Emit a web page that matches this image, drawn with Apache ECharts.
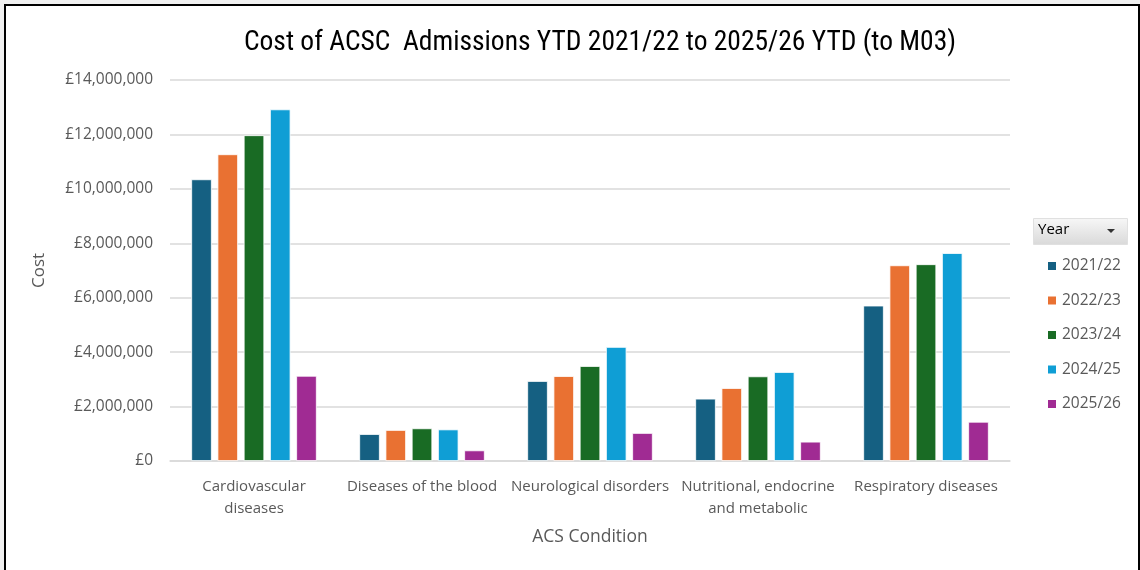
<!DOCTYPE html>
<html>
<head>
<meta charset="utf-8">
<script src="https://cdn.jsdelivr.net/npm/echarts@6/dist/echarts.min.js"></script>
<style>
  html, body { margin: 0; padding: 0; background: #f0f0f0; }
  #frame { position: absolute; left: 4px; top: 4px; width: 1132px; height: 570px; background: #fff;
           border-left: 2px solid #000; border-top: 2px solid #000; border-right: 2px solid #000; }
  #chart { position: absolute; left: -6px; top: -6px; width: 1140px; height: 570px; }
</style>
</head>
<body>
<div id="frame"><div id="chart"></div></div>
<script>
const categories = ["Cardiovascular diseases", "Diseases of the blood", "Neurological disorders", "Nutritional, endocrine and metabolic", "Respiratory diseases"];
const years = ["2021/22", "2022/23", "2023/24", "2024/25", "2025/26"];
const y2021 = [10350000, 990000, 2940000, 2290000, 5710000];
const y2022 = [11270000, 1140000, 3120000, 2680000, 7190000];
const y2023 = [11970000, 1200000, 3490000, 3110000, 7230000];
const y2024 = [12920000, 1160000, 4190000, 3270000, 7640000];
const y2025 = [3130000, 390000, 1030000, 710000, 1440000];
const seriesValues = [y2021, y2022, y2023, y2024, y2025];
const colors = ["#156082", "#E97132", "#196B24", "#0F9ED5", "#A02B93"];
const labelBreaks = {"Cardiovascular diseases": "Cardiovascular\ndiseases", "Nutritional, endocrine and metabolic": "Nutritional, endocrine\nand metabolic"};

const chart = echarts.init(document.getElementById('chart'));
const font = "'Open Sans', 'Noto Sans', sans-serif";
chart.setOption({
  animation: false,
  textStyle: { fontFamily: font },
  title: {
    text: "Cost of ACSC  Admissions YTD 2021/22 to 2025/26 YTD (to M03)",
    left: 595, top: 24, textAlign: 'center',
    textStyle: { fontFamily: "'Liberation Sans Narrow', 'Roboto Condensed', 'Liberation Sans', sans-serif", fontSize: 27.5, fontWeight: 'normal', color: '#000' }
  },
  grid: { left: 170, right: 130, top: 80, bottom: 109, containLabel: false },
  legend: {
    orient: 'vertical', left: 1041, top: 253,
    itemWidth: 10, itemHeight: 10, itemGap: 18.5,
    icon: 'rect',
    textStyle: { color: '#595959', fontSize: 15.5, fontFamily: font },
    data: years
  },
  graphic: [
    { type: 'rect', left: 1033, top: 218, shape: { width: 94, height: 26 },
      style: { fill: new echarts.graphic.LinearGradient(0, 0, 0, 1, [{offset: 0, color: '#f7f7f7'}, {offset: 1, color: '#d9d9d9'}]), stroke: '#e0e0e0' } },
    { type: 'text', left: 1038, top: 222, style: { text: 'Year', fill: '#000', font: "15px 'Open Sans', sans-serif" } },
    { type: 'polygon', shape: { points: [[1107, 229], [1115, 229], [1111, 233]] }, style: { fill: '#333' } }
  ],
  xAxis: {
    type: 'category', data: categories,
    name: 'ACS Condition', nameLocation: 'middle', nameGap: 67,
    nameTextStyle: { color: '#595959', fontSize: 17.5, fontFamily: font },
    axisLine: { lineStyle: { color: '#d9d9d9', width: 1.5 } },
    axisTick: { show: false },
    axisLabel: { color: '#595959', fontSize: 15, margin: 15, lineHeight: 22, interval: 0,
      formatter: v => labelBreaks[v] || v }
  },
  yAxis: {
    type: 'value', min: 0, max: 14000000, interval: 2000000,
    name: 'Cost', nameLocation: 'middle', nameGap: 122, nameRotate: 90,
    nameTextStyle: { color: '#595959', fontSize: 17, fontFamily: font },
    axisLine: { show: false }, axisTick: { show: false },
    splitLine: { lineStyle: { color: '#d9d9d9', width: 1.5 } },
    axisLabel: { color: '#595959', fontSize: 15.5, margin: 17,
      formatter: v => '£' + v.toLocaleString('en-GB') }
  },
  series: years.map((y, i) => ({
    name: y, type: 'bar', data: seriesValues[i],
    barWidth: 20.5, barGap: '28%',
    itemStyle: { color: colors[i], borderColor: '#fff', borderWidth: 0.8 }
  }))
});
</script>
</body>
</html>
